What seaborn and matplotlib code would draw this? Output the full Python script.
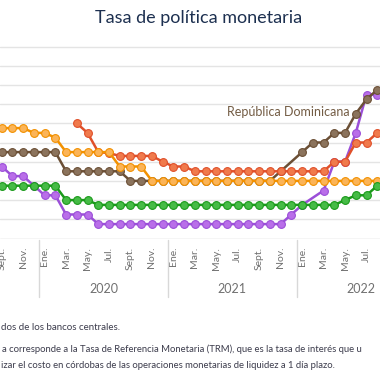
import numpy as np
import pandas as pd
import matplotlib
matplotlib.use('Agg')
import matplotlib.pyplot as plt
import seaborn as sns

sns.set_theme(style='white')
plt.rcParams['font.family'] = ['Lato', 'DejaVu Sans']

nan = np.nan

# meses: sept. 2019 -> ago. 2022 (indice 0..35)
nombres_mes = ['Ene.', 'Feb.', 'Mar.', 'Abr.', 'May.', 'Jun.', 'Jul.', 'Ago.', 'Sept.', 'Oct.', 'Nov.', 'Dic.']
meses = [nombres_mes[(8 + k) % 12] for k in range(36)]
anios = ['2020', '2021', '2022']

costa_rica = [3.75, 3.25, 3.25, 2.75, 2.25, 2.25, 1.25, 1.25, 1.25,
              0.75, 0.75, 0.75, 0.75, 0.75, 0.75, 0.75, 0.75, 0.75,
              0.75, 0.75, 0.75, 0.75, 0.75, 0.75, 0.75, 0.75, 0.75,
              1.25, 1.75, nan, 2.5, 4.0, 4.0, 5.5, 7.5, 7.5]
rep_dominicana = [4.5, 4.5, 4.5, 4.5, 4.5, 4.5, 3.5, 3.5, 3.5,
                  3.5, 3.5, 3.5, 3.0, 3.0, 3.0, 3.0, 3.0, 3.0,
                  3.0, 3.0, 3.0, 3.0, 3.0, 3.0, 3.0, 3.0, 3.5,
                  nan, 4.5, 5.0, 5.0, 5.5, 5.5, 6.5, 7.25, 7.75]
nicaragua = [nan, nan, nan, nan, nan, nan, nan, 6.0, 5.5,
             4.5, 4.45, 4.3, 4.3, 4.3, 4.3, 4.0, 3.75, 3.75,
             3.5, 3.5, 3.5, 3.5, 3.5, 3.5, 3.5, 3.5, 3.5,
             3.5, 3.5, 3.5, 3.5, 4.0, 4.0, 5.0, 5.0, 5.5]
honduras = [5.75, 5.75, 5.75, 5.5, 5.5, 5.25, 4.5, 4.5, 4.5,
            4.5, 4.5, 3.75, 3.75, 3.75, 3.0, 3.0, 3.0, 3.0,
            3.0, 3.0, 3.0, 3.0, 3.0, 3.0, 3.0, 3.0, 3.0,
            3.0, 3.0, 3.0, 3.0, 3.0, 3.0, 3.0, 3.0, 3.0]
guatemala = [2.75, 2.75, 2.75, 2.75, 2.75, 2.75, 2.0, 2.0, 2.0,
             1.75, 1.75, 1.75, 1.75, 1.75, 1.75, 1.75, 1.75, 1.75,
             1.75, 1.75, 1.75, 1.75, 1.75, 1.75, 1.75, 1.75, 1.75,
             1.75, 1.75, 1.75, 1.75, 1.75, 2.0, 2.25, 2.25, 2.75]

series = {
    'Costa Rica': costa_rica,
    'República Dominicana': rep_dominicana,
    'Nicaragua': nicaragua,
    'Honduras': honduras,
    'Guatemala': guatemala,
}
# color linea, relleno marcador
colores = {
    'Costa Rica': ('#9b4fd8', '#b96ee9'),
    'República Dominicana': ('#6b4f35', '#8b735c'),
    'Nicaragua': ('#e0502a', '#f07a4c'),
    'Honduras': ('#f29100', '#fbb458'),
    'Guatemala': ('#1a9a1a', '#46bb46'),
}

filas = []
for pais, vals in series.items():
    for i, v in enumerate(vals):
        filas.append({'pais': pais, 'mes': i, 'tasa': v})
df = pd.DataFrame(filas).dropna()

fig = plt.figure(figsize=(3.8, 3.8), dpi=100)
# pixel mapping: month i -> x = 1.7 + 10.73*i ; value 0 at y=238.5px, 19.2 px per point
px_mes = 10.73
x0 = -1.7 / px_mes
x1 = (380 - 1.7) / px_mes
ytop = 10.3
ax = fig.add_axes([0, (380 - 238.5) / 380, 1, ytop * 19.2 / 380])
ax.set_xlim(x0, x1)
ax.set_ylim(0, ytop)

for y in range(1, 11):
    ax.axhline(y, color='#e4e4e4', lw=1, zorder=0)
ax.axhline(0, color='#d0d0d0', lw=1, zorder=0)

for pais in series:
    c_line, c_fill = colores[pais]
    sns.lineplot(data=df[df['pais'] == pais], x='mes', y='tasa', ax=ax,
                 color=c_line, lw=1.8, marker='o', markersize=5.6,
                 markerfacecolor=c_fill, markeredgecolor=c_line,
                 markeredgewidth=0.8, legend=False)

ax.text(32.4, 6.6, 'República Dominicana', ha='right', va='center',
        fontsize=9, color='#735c44')

for s in ax.spines.values():
    s.set_visible(False)
ax.set_xlabel('')
ax.set_ylabel('')
ax.set_yticks([])
ticks = list(range(0, 36, 2))
ax.set_xticks(ticks)
ax.set_xticklabels([meses[t] for t in ticks], rotation=90, fontsize=7.5, color='#707070')
ax.tick_params(axis='x', length=0, pad=6)

trans = ax.get_xaxis_transform()
alto = ytop * 19.2
for sx in [3.5, 15.5, 27.5]:
    ax.plot([sx, sx], [-1.5 / alto, -58.5 / alto], transform=trans,
            color='#d8d8d8', lw=1, clip_on=False)
for xa, anio in zip([9.5, 21.5, 33.5], anios):
    ax.text(xa, -50.5 / alto, anio, transform=trans, ha='center', va='center',
            fontsize=9, color='#707070')

fig.text(199 / 380, 1 - 18 / 380, 'Tasa de política monetaria', ha='center', va='center',
         fontsize=13, color='#1d3050')

nota = '#3c3c4c'
fig.text(0.002, 1 - 327 / 380, 'dos de los bancos centrales.', fontsize=7, color=nota, va='center')
fig.text(0.004, 1 - 349 / 380,
         'a corresponde a la Tasa de Referencia Monetaria (TRM), que es la tasa de interés que u',
         fontsize=6.8, color=nota, va='center')
fig.text(0.002, 1 - 365 / 380,
         'izar el costo en córdobas de las operaciones monetarias de liquidez a 1 día plazo.',
         fontsize=6.8, color=nota, va='center')

fig.savefig('out.png', dpi=100)
